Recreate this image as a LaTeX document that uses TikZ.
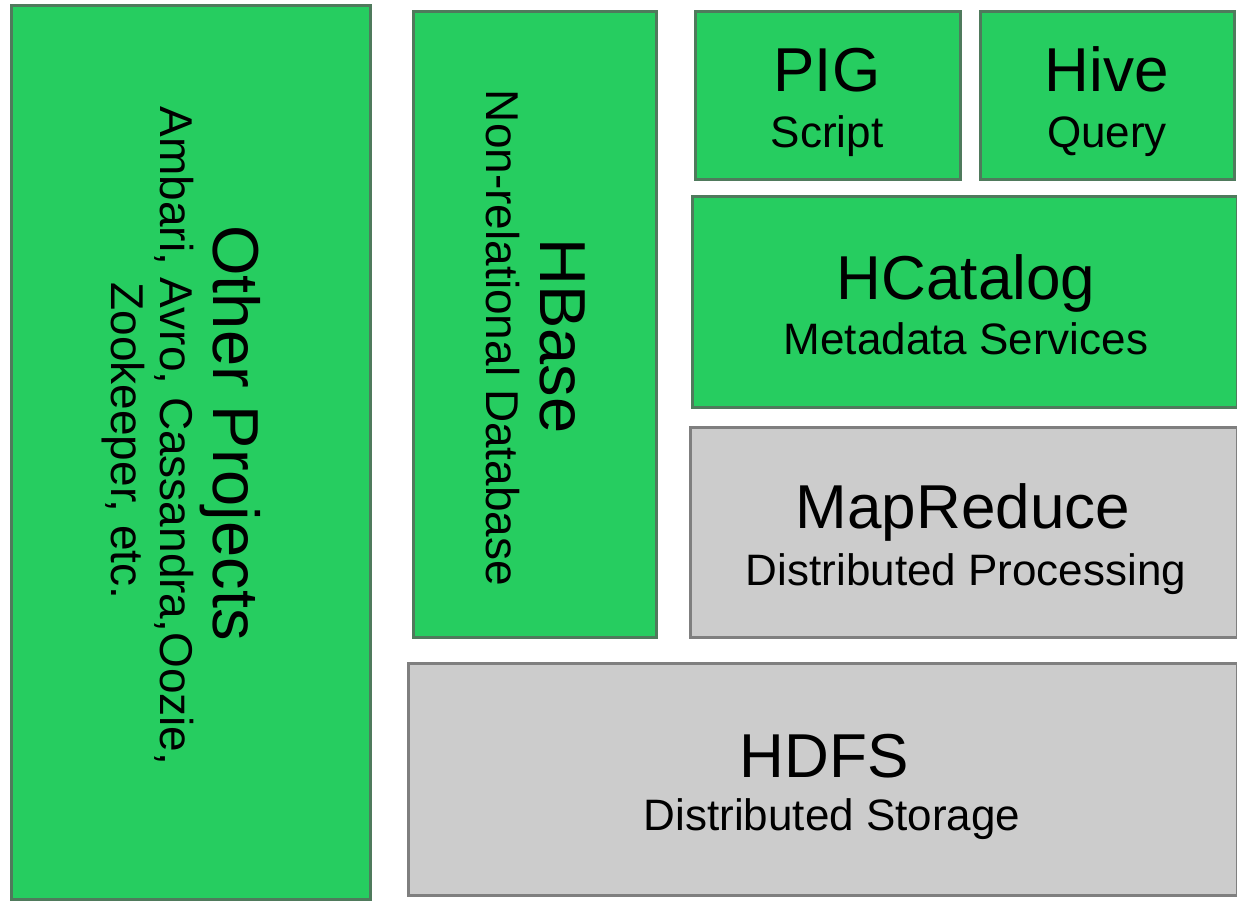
\documentclass[tikz,border=0pt]{standalone}
\usepackage{fontspec}
\setmainfont{Liberation Sans}
\definecolor{gfill}{HTML}{26CD60}
\definecolor{gline}{HTML}{4F7A5C}
\definecolor{kfill}{HTML}{CCCCCC}
\definecolor{kline}{HTML}{7F7F7F}
\begin{document}
\begin{tikzpicture}[x=1pt,y=-1pt,
  box/.style={rectangle, anchor=north west, inner sep=0pt, outer sep=0pt, line width=3pt},
  gbox/.style={box, fill=gfill, draw=gline},
  kbox/.style={box, fill=kfill, draw=kline},
  big/.style={anchor=base, inner sep=0pt, font=\fontsize{62}{70}\selectfont},
  small/.style={anchor=base, inner sep=0pt, font=\fontsize{44}{50}\selectfont},
  rbig/.style={anchor=base, inner sep=0pt, rotate=-90, font=\fontsize{65}{70}\selectfont},
  rsmall/.style={anchor=base, inner sep=0pt, rotate=-90, font=\fontsize{46}{50}\selectfont}]
\useasboundingbox (0,0) rectangle (1237,901);
% boxes
\node[gbox, minimum width=359pt, minimum height=893pt] (other) at (11,6) {};
\node[gbox, minimum width=243pt, minimum height=625pt] (hbase) at (413,12) {};
\node[gbox, minimum width=265pt, minimum height=168pt] (pig) at (695,12) {};
\node[gbox, minimum width=254pt, minimum height=168pt] (hive) at (980,12) {};
\node[gbox, minimum width=545pt, minimum height=210pt] (hcat) at (692,197) {};
\node[kbox, minimum width=547pt, minimum height=210pt] (mapred) at (690,427) {};
\node[kbox, minimum width=829pt, minimum height=232pt] (hdfs) at (408,663) {};
% texts
\node[big] (pigt) at (827,92) {PIG};
\node[small] (pigs) at (827,148) {Script};
\node[big] (hivet) at (1107,92) {Hive};
\node[small] (hives) at (1107,148) {Query};
\node[big] (hcatt) at (966,300) {HCatalog};
\node[small] (hcats) at (966,355) {Metadata Services};
\node[big] (mrt) at (963,528) {MapReduce};
\node[small] (mrs) at (966,585) {Distributed Processing};
\node[big] (hdfst) at (824,777) {HDFS};
\node[small] (hdfss) at (832,830) {Distributed Storage};
\node[rbig] (hbt) at (540,336) {HBase};
\node[rsmall] (hbs) at (486,338) {Non-relational Database};
\node[rbig] (ott) at (213,433) {Other Projects};
\node[rsmall] (ots1) at (160,436) {Ambari, Avro, Cassandra,Oozie,};
\node[rsmall] (ots2) at (111,441) {Zookeeper, etc.};
\end{tikzpicture}
\end{document}
